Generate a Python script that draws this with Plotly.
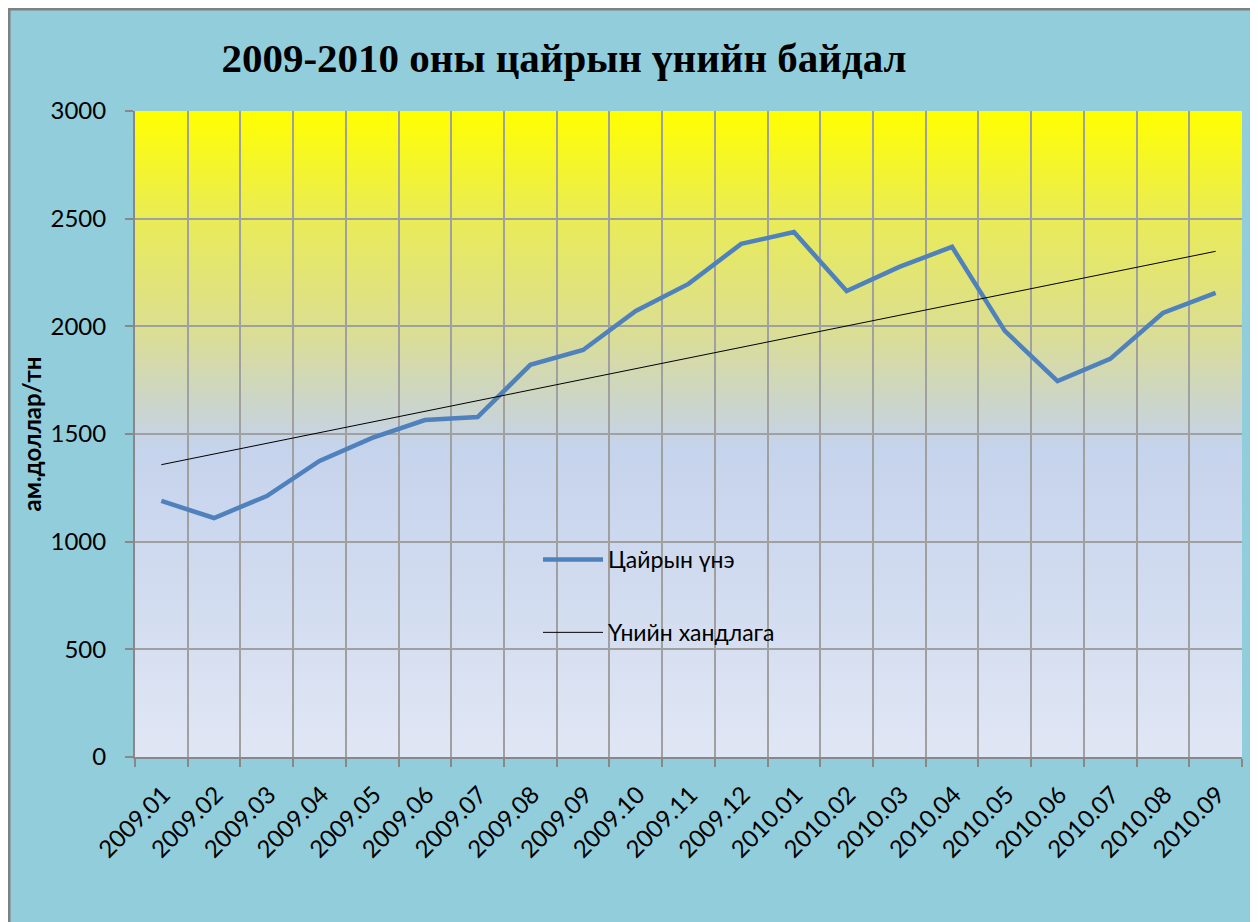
import base64
import numpy as np
import plotly.graph_objects as go

categories = ["2009.01", "2009.02", "2009.03", "2009.04", "2009.05", "2009.06", "2009.07",
              "2009.08", "2009.09", "2009.10", "2009.11", "2009.12", "2010.01", "2010.02",
              "2010.03", "2010.04", "2010.05", "2010.06", "2010.07", "2010.08", "2010.09"]
zinc_price = [1189, 1110, 1212, 1375, 1482, 1565, 1579, 1821, 1890, 2071, 2197, 2383,
              2438, 2164, 2276, 2369, 1979, 1746, 1849, 2062, 2155]
y_ticks = [0, 500, 1000, 1500, 2000, 2500, 3000]

title_text = "2009-2010 оны цайрын үнийн байдал"
series_name = "Цайрын үнэ"
trend_name = "Үнийн хандлага"
y_title = "ам.доллар/тн"

# linear trendline (least squares) over the data
idx = np.arange(len(zinc_price))
slope, intercept = np.polyfit(idx, zinc_price, 1)
trend = slope * idx + intercept

# page body has an 8px margin: the figure starts at window (8, 8)
OFF = 8
W, H = 1258 - OFF, 922 - OFF
L, R, T, B = 135 - OFF, 1242 - OFF, 111 - OFF, 757 - OFF

fig = go.Figure()
fig.add_trace(go.Scatter(x=categories, y=zinc_price, mode="lines", name=series_name,
                         line=dict(color="#4F81BD", width=4.5), legendgroup="a"))
fig.add_trace(go.Scatter(x=categories, y=trend, mode="lines", name=trend_name,
                         line=dict(color="#000000", width=1), legendgroup="b"))

svg = """<svg xmlns='http://www.w3.org/2000/svg' width='100' height='100' preserveAspectRatio='none'>
<defs><linearGradient id='g' x1='0' y1='0' x2='0' y2='1'>
<stop offset='0' stop-color='#FFFF00'/>
<stop offset='0.17' stop-color='#E9EB58'/>
<stop offset='0.33' stop-color='#DCDF8E'/>
<stop offset='0.45' stop-color='#CCD5C8'/>
<stop offset='0.52' stop-color='#C5D3EC'/>
<stop offset='1' stop-color='#E0E6F4'/>
</linearGradient></defs>
<rect x='0' y='0' width='100' height='100' fill='url(#g)'/></svg>"""
src = "data:image/svg+xml;base64," + base64.b64encode(svg.encode()).decode()

pw, ph = R - L, B - T
def px(x):  # window pixel -> paper x
    return (x - OFF - L) / pw
def py(y):  # window pixel -> paper y
    return (B - (y - OFF)) / ph

fig.update_layout(
    width=W, height=H,
    margin=dict(l=L, r=W - R, t=T, b=H - B, pad=0, autoexpand=False),
    paper_bgcolor="#92CDDC",
    plot_bgcolor="rgba(0,0,0,0)",
    font=dict(family="Lato, Open Sans, sans-serif", color="#000000", size=24),
    title=dict(text="<b>" + title_text + "</b>", x=(564 - OFF) / W, xanchor="center",
               y=1 - (58 - OFF) / H, yanchor="middle",
               font=dict(family="Liberation Serif, Times New Roman, serif", size=41, color="#000000")),
    showlegend=True,
    legend=dict(x=px(538), y=py(538), xanchor="left", yanchor="top",
                bgcolor="rgba(0,0,0,0)", font=dict(size=23),
                tracegroupgap=40, itemwidth=60),
    xaxis=dict(type="category", tickson="boundaries", showgrid=True, gridcolor="#A0A0A0",
               gridwidth=1.5, showline=True, linecolor="#888888", linewidth=2,
               ticks="outside", ticklen=8, tickcolor="#888888", tickwidth=2,
               tickangle=-45, tickfont=dict(size=24), range=[-0.5, 20.5],
               ticklabelstandoff=12, ticklabelshift=2),
    yaxis=dict(range=[0, 3000], tickvals=y_ticks, showgrid=True, gridcolor="#A0A0A0",
               gridwidth=1.5, showline=True, linecolor="#888888", linewidth=2,
               ticks="outside", ticklen=8, tickcolor="#888888", tickwidth=2,
               tickfont=dict(size=24), zeroline=False, ticklabelstandoff=14,
               title=dict(text="<b>" + y_title + "</b>", font=dict(size=24), standoff=2)),
    images=[dict(source=src, xref="x domain", yref="y domain", x=0, y=1, sizex=1, sizey=1,
                 xanchor="left", yanchor="top", sizing="stretch", layer="below")],
    shapes=[dict(type="rect", xref="paper", yref="paper", layer="below",
                 x0=px(9), x1=px(1258 + 20), y0=py(922 + 20), y1=py(9),
                 fillcolor="#92CDDC", line=dict(color="#808080", width=3))],
)

fig.write_html("out.html")
